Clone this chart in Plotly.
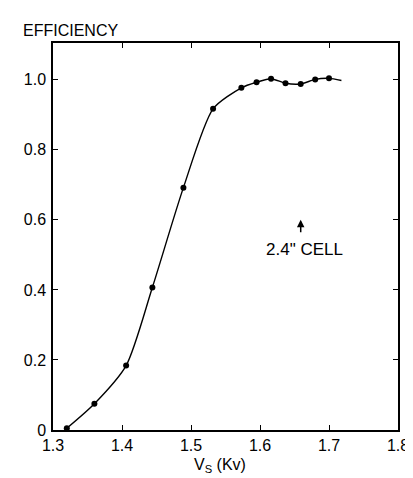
import plotly.graph_objects as go

# Measured data points
vs = [1.320, 1.360, 1.406, 1.444, 1.489, 1.532, 1.573, 1.595, 1.616, 1.637, 1.659, 1.680, 1.700]
eff = [0.005, 0.075, 0.184, 0.407, 0.692, 0.917, 0.977, 0.993, 1.003, 0.990, 0.988, 1.001, 1.004]

# Fitted curve extends a little beyond the last point
curve_end_x = [1.718]
curve_end_y = [0.998]

x_ticks = [1.3, 1.4, 1.5, 1.6, 1.7, 1.8]
x_ticktext = ["1.3", "1.4", "1.5", "1.6", "1.7", "1.8"]
y_ticks = [0, 0.2, 0.4, 0.6, 0.8, 1.0]
y_ticktext = ["0", "0.2", "0.4", "0.6", "0.8", "1.0"]

FONT = "Liberation Sans, Arial, sans-serif"

fig = go.Figure()
fig.add_trace(go.Scatter(
    x=vs + curve_end_x, y=eff + curve_end_y, mode="lines",
    line=dict(color="black", width=1.4, shape="spline", smoothing=0.7),
    hoverinfo="skip", showlegend=False))
fig.add_trace(go.Scatter(
    x=vs, y=eff, mode="markers",
    marker=dict(color="black", size=6),
    showlegend=False))

axis_common = dict(
    showgrid=False, zeroline=False, showline=True, linecolor="black", linewidth=1.5,
    ticks="inside", ticklen=5, tickcolor="black", tickwidth=1.2, mirror="ticks",
    tickfont=dict(family=FONT, size=16, color="black"))

fig.update_xaxes(range=[1.3, 1.8], tickvals=x_ticks, ticktext=x_ticktext, **axis_common)
fig.update_yaxes(range=[0, 1.105], tickvals=y_ticks, ticktext=y_ticktext,
                 ticklabelstandoff=2, **axis_common)

fig.add_annotation(x=-0.092, y=1.0, xref="paper", yref="paper", yshift=13,
                   text="EFFICIENCY", showarrow=False, xanchor="left", yanchor="middle",
                   font=dict(family=FONT, size=16, color="black"))
fig.add_annotation(x=1.542, y=0, xref="x", yref="paper", yshift=-35,
                   text="V<sub>S</sub> (Kv)", showarrow=False, xanchor="center", yanchor="middle",
                   font=dict(family=FONT, size=16, color="black"))
fig.add_annotation(x=1.665, y=0.516, xref="x", yref="y",
                   text="2.4\" CELL", showarrow=False, xanchor="center", yanchor="middle",
                   font=dict(family=FONT, size=17, color="black"))
fig.add_annotation(x=1.659, y=0.600, xref="x", yref="y", ax=1.659, ay=0.560,
                   axref="x", ayref="y", text="", showarrow=True,
                   arrowhead=2, arrowsize=1, arrowwidth=1.5, arrowcolor="black")

fig.update_layout(
    width=413, height=478,
    margin=dict(l=45, r=12, t=35, b=56),
    plot_bgcolor="white", paper_bgcolor="white",
    font=dict(family=FONT, color="black"))

fig.write_html("out.html")
